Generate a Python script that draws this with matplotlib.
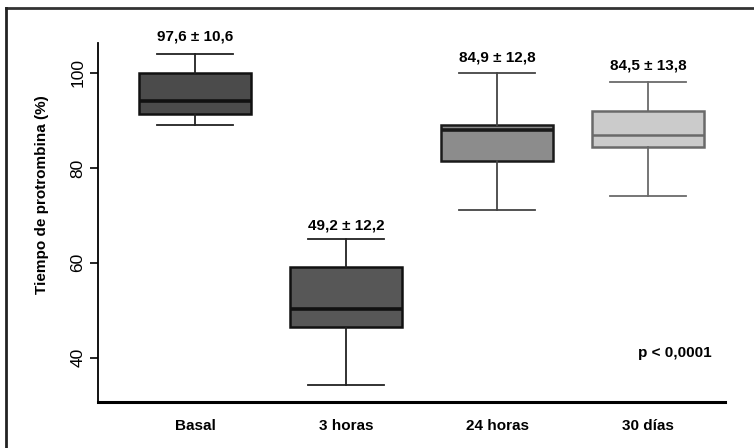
import matplotlib.pyplot as plt
from matplotlib.lines import Line2D

plt.rcParams['font.family'] = ['Liberation Sans Narrow', 'Liberation Sans', 'DejaVu Sans']

groups = ['Basal', '3 horas', '24 horas', '30 días']
# whisker low, q1, median, q3, whisker high
wlo = [89.0, 34.2, 71.2, 74.0]
q1 = [91.4, 46.5, 81.5, 84.3]
med = [94.1, 50.2, 88.0, 86.9]
q3 = [100.0, 59.1, 89.0, 91.9]
whi = [104.0, 65.0, 100.0, 98.0]
labels = ['97,6 ± 10,6', '49,2 ± 12,2', '84,9 ± 12,8', '84,5 ± 13,8']
label_y = [107.6, 67.8, 103.2, 101.5]

fills = ['#4b4b4b', '#575757', '#8c8c8c', '#cbcbcb']
edges = ['#111111', '#111111', '#1a1a1a', '#6a6a6a']
whisk = ['#222222', '#222222', '#444444', '#6a6a6a']

fig = plt.figure(figsize=(7.54, 4.48), dpi=100)
ax = fig.add_axes([0.130, 0.1027, 0.8315, 0.8013])

stats = []
for i in range(len(groups)):
    stats.append(dict(whislo=wlo[i], q1=q1[i], med=med[i], q3=q3[i], whishi=whi[i], fliers=[]))
bp = ax.bxp(stats, positions=[1, 2, 3, 4], widths=0.74, patch_artist=True,
            showfliers=False, capwidths=0.5)
for i in range(len(groups)):
    bp['boxes'][i].set(facecolor=fills[i], edgecolor=edges[i], linewidth=1.8)
    bp['medians'][i].set(color=edges[i], linewidth=2.6 if i < 3 else 1.8)
    for w in bp['whiskers'][2 * i:2 * i + 2]:
        w.set(color=whisk[i], linewidth=1.3)
    for c in bp['caps'][2 * i:2 * i + 2]:
        c.set(color=whisk[i], linewidth=1.3)
    ax.text(i + 1, label_y[i], labels[i], ha='center', va='center',
            fontsize=11, fontweight='bold')

ax.text(4.18, 41.0, 'p < 0,0001', ha='center', va='center', fontsize=11, fontweight='bold')

ax.set_xlim(0.357, 4.51)
ax.set_ylim(30.7, 106.3)
ax.set_yticks([40, 60, 80, 100])
ax.set_yticklabels(['40', '60', '80', '100'], rotation=90, va='center', fontsize=12.5)
ax.set_xticks([1, 2, 3, 4])
ax.set_xticklabels(groups, fontsize=11, fontweight='bold')
ax.tick_params(axis='x', length=0, pad=12)
ax.tick_params(axis='y', length=6, width=1.2, pad=3)
ax.set_ylabel('Tiempo de protrombina (%)', fontsize=11, fontweight='bold',
              family=['Liberation Sans', 'DejaVu Sans'])
ax.yaxis.set_label_coords(-0.078, 0.577)
ax.spines['top'].set_visible(False)
ax.spines['right'].set_visible(False)
ax.spines['left'].set_linewidth(1.3)
ax.spines['bottom'].set_linewidth(2.2)

# outer frame of the figure
fig.add_artist(Line2D([0.008, 1.0], [0.983, 0.983], color='#333333', lw=2, transform=fig.transFigure))
fig.add_artist(Line2D([0.0085, 0.0085], [0.0, 0.983], color='#222222', lw=2, transform=fig.transFigure))

fig.savefig('out.png', dpi=100)
